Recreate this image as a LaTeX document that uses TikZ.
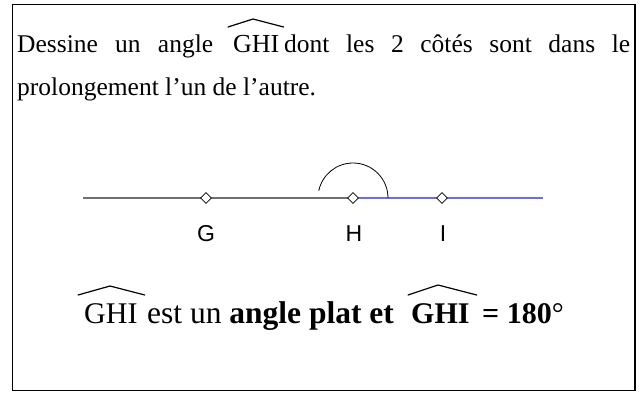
\documentclass[tikz,border=0pt]{standalone}
\usepackage{fontspec}
\setmainfont{Liberation Serif}
\newfontfamily\lsans{Liberation Sans}
\usetikzlibrary{calc,shapes.geometric}
\definecolor{lgray}{HTML}{707070}
\definecolor{lblue}{HTML}{6A6AFF}
\begin{document}
\begin{tikzpicture}[x=1pt,y=-1pt,
  txt/.style={inner sep=0pt,anchor=base west,font=\fontsize{25.5}{30}\selectfont},
  big/.style={inner sep=0pt,anchor=base west,font=\fontsize{26}{30}\selectfont},
  huge/.style={inner sep=0pt,anchor=base west,font=\fontsize{30}{34}\selectfont},
  hat/.style={line width=1.2pt,line join=round,line cap=round},
  pt/.style={diamond,draw=black,fill=white,line width=0.7pt,inner sep=0pt,minimum width=11pt,minimum height=11pt},
  lab/.style={inner sep=0pt,anchor=base,font=\lsans\fontsize{23}{26}\selectfont},
  seg/.style={line width=1.5pt}]
\useasboundingbox (0,0) rectangle (644,392);
\draw[line width=1.5pt] (12.5,4.5) rectangle (635,390.5);
% first sentence
\node[txt] (l1a) at (17,52) {\makebox[196pt][s]{Dessine un angle}};
\node[big] (g1) at (233,52) {GHI};
\node[txt] (l1b) at (284,52) {\makebox[346pt][s]{dont les 2 côtés sont dans le}};
\draw[hat] ($(g1.base west)+(-5,-25)$) -- ($(g1.base west)+(20,-33)$) -- ($(g1.base east)+(4,-25)$);
\node[txt] (l2) at (17,95) {prolongement l’un de l’autre.};
% line
\coordinate (L) at (83,198);
\coordinate (pG) at (206,198);
\coordinate (pH) at (353,198);
\coordinate (pI) at (442,198);
\coordinate (R) at (543,198);
\draw[seg,lgray] (L) -- (pH);
\draw[seg,lblue] (pH) -- (R);
\draw[line width=0.8pt] ($(pH)+(35,0)$) arc[start angle=0,end angle=-168,radius=35];
\node[pt] (G) at (pG) {};
\node[pt] (H) at (pH) {};
\node[pt] (I) at (pI) {};
\node[lab] (lG) at (206,241) {G};
\node[lab] (lH) at (354,241) {H};
\node[lab] (lI) at (443,241) {I};
% conclusion
\node[huge] (g2) at (84,323) {GHI};
\draw[hat] ($(g2.base west)+(-6,-28)$) -- ($(g2.base west)+(26,-37)$) -- ($(g2.base east)+(7,-28)$);
\node[huge,font=\fontsize{31.5}{34}\selectfont] (c1) at (147,323) {est un \textbf{angle plat et}};
\node[huge] (g3) at (411,323) {\textbf{GHI}};
\draw[hat] ($(g3.base west)+(-3,-28)$) -- ($(g3.base west)+(27,-38)$) -- ($(g3.base east)+(7,-28)$);
\node[huge] (c2) at (482,323) {\textbf{= 180}°};
\end{tikzpicture}
\end{document}
